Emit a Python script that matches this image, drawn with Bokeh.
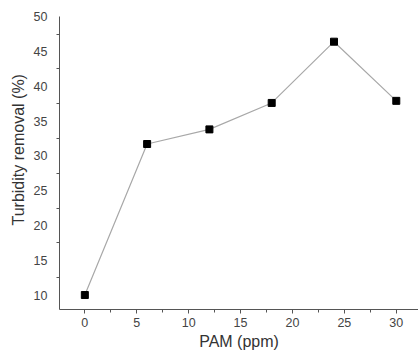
from bokeh.plotting import figure
from bokeh.models import Range1d, FixedTicker, Title
from bokeh.embed import file_html
from bokeh.resources import INLINE

pam_ppm = [0, 6, 12, 18, 24, 30]
turbidity_removal = [10.0, 31.7, 33.8, 37.6, 46.4, 37.9]
x_ticks = [0, 5, 10, 15, 20, 25, 30]
x_minor = [2.5, 7.5, 12.5, 17.5, 22.5, 27.5]
y_ticks = [10, 15, 20, 25, 30, 35, 40, 45, 50]
y_minor = [12.5, 17.5, 22.5, 27.5, 32.5, 37.5, 42.5, 47.5]
x_title = "PAM (ppm)"
y_title = "Turbidity removal (%)"

p = figure(width=418, height=354, output_backend="svg", toolbar_location=None,
           x_range=Range1d(-2.44, 32.14), y_range=Range1d(7.92, 50.02),
           min_border_left=59, min_border_right=0, min_border_top=16, min_border_bottom=45)
p.outline_line_color = None
p.grid.visible = False

p.line(pam_ppm, turbidity_removal, line_color="#a8a8a8", line_width=1.2)
p.scatter(pam_ppm, turbidity_removal, marker="square", size=7, fill_color="black", line_color="black")

font = "Liberation Sans"
p.xaxis.ticker = FixedTicker(ticks=x_ticks, minor_ticks=x_minor)
p.yaxis.ticker = FixedTicker(ticks=y_ticks, minor_ticks=y_minor)

for ax in (p.xaxis, p.yaxis):
    ax.axis_line_color = "#555555"
    ax.axis_line_width = 1
    ax.major_tick_line_color = "#555555"
    ax.minor_tick_line_color = "#555555"
    ax.major_label_text_font = font
    ax.major_label_text_font_size = "12.5px"
    ax.major_label_text_color = "#444444"

p.xaxis.axis_label = x_title
p.xaxis.axis_label_text_font = font
p.xaxis.axis_label_text_font_size = "16px"
p.xaxis.axis_label_text_font_style = "normal"
p.xaxis.axis_label_text_color = "#333333"
p.xaxis.major_tick_in = 0
p.xaxis.major_tick_out = 4
p.xaxis.minor_tick_in = 0
p.xaxis.minor_tick_out = 3
p.xaxis.major_label_standoff = 4
p.xaxis.axis_label_standoff = 3

p.yaxis.major_tick_in = 0
p.yaxis.major_tick_out = 0
p.yaxis.minor_tick_in = 0
p.yaxis.minor_tick_out = 3
p.yaxis.major_label_standoff = 9

ytitle = Title(text=y_title, align="left", offset=84, vertical_align="middle", standoff=6,
               text_font=font, text_font_size="16px", text_font_style="normal",
               text_color="#333333")
p.add_layout(ytitle, "left")

open("out.html", "w").write(file_html(p, INLINE))
